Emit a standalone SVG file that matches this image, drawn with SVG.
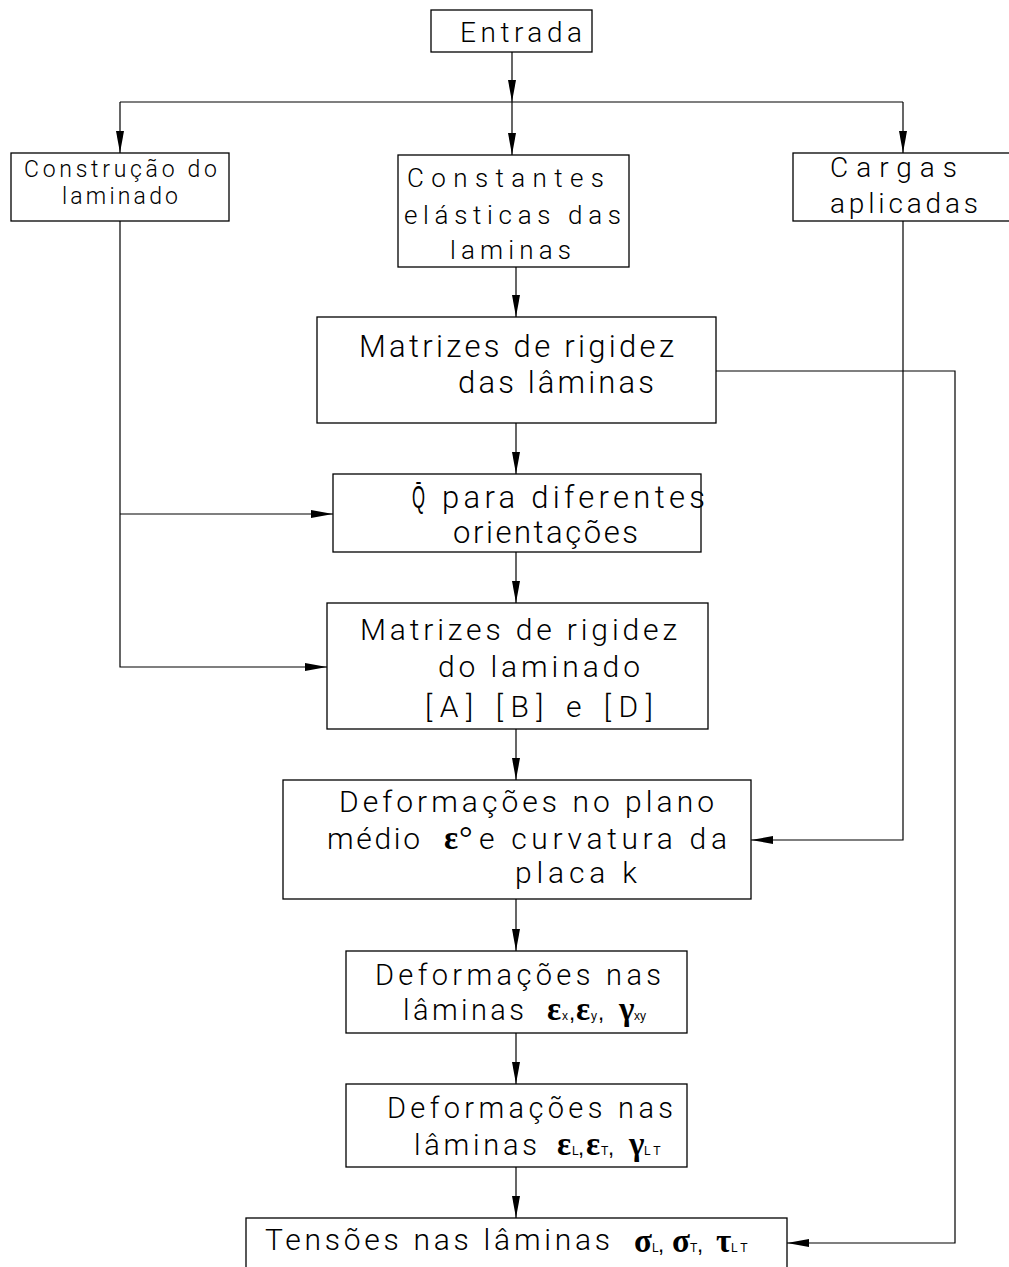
<svg xmlns="http://www.w3.org/2000/svg" width="1009" height="1267" viewBox="0 0 1009 1267">
<style>
.box{fill:#fff;stroke:#000;stroke-width:1.3}
.ln{fill:none;stroke:#000;stroke-width:1.2}
.t{font-family:Roboto,"Liberation Sans",sans-serif;font-weight:300;fill:#000}
.gk{font-family:"Liberation Serif",serif;font-weight:bold;font-size:33px;fill:#000}
.sb{font-family:"Liberation Sans",sans-serif;font-size:12px;font-weight:normal;fill:#000}
.cm{font-family:"Liberation Sans",sans-serif;font-size:22px;font-weight:normal;fill:#000}
.dg{font-family:"Liberation Serif",serif;font-size:34px;font-weight:normal;fill:#000}
</style>
<defs>
<marker id="ah" markerUnits="userSpaceOnUse" markerWidth="22" markerHeight="8" refX="22" refY="4" orient="auto">
<path d="M0,0 L22,4 L0,8 Z" fill="#000"/>
</marker>
</defs>
<rect width="1009" height="1267" fill="#fff"/>
<g id="connectors">
<path class="ln" d="M512,52 V102" marker-end="url(#ah)"/>
<path class="ln" d="M120,102 H903"/>
<path class="ln" d="M120,102 V153" marker-end="url(#ah)"/>
<path class="ln" d="M512,102 V155" marker-end="url(#ah)"/>
<path class="ln" d="M903,102 V153" marker-end="url(#ah)"/>
<path class="ln" d="M516,267 V317" marker-end="url(#ah)"/>
<path class="ln" d="M516,423 V474" marker-end="url(#ah)"/>
<path class="ln" d="M516,552 V603" marker-end="url(#ah)"/>
<path class="ln" d="M516,729 V780" marker-end="url(#ah)"/>
<path class="ln" d="M516,899 V951" marker-end="url(#ah)"/>
<path class="ln" d="M516,1033 V1084" marker-end="url(#ah)"/>
<path class="ln" d="M516,1167 V1218" marker-end="url(#ah)"/>
<path class="ln" d="M120,221 V667 H327" marker-end="url(#ah)"/>
<path class="ln" d="M120,514 H333" marker-end="url(#ah)"/>
<path class="ln" d="M903,221 V840 H751" marker-end="url(#ah)"/>
<path class="ln" d="M716,371 H955 V1243 H787" marker-end="url(#ah)"/>
</g>
<g id="entrada">
<rect class="box" x="431" y="10" width="161" height="42"/>
<text class="t" x="460" y="42" font-size="28" textLength="122">Entrada</text>
</g>
<g id="construcao">
<rect class="box" x="11" y="153" width="218" height="68"/>
<text class="t" x="24" y="177" font-size="23" textLength="193">Construção do</text>
<text class="t" x="62" y="204" font-size="23" textLength="116">laminado</text>
</g>
<g id="constantes">
<rect class="box" x="398" y="155" width="231" height="112"/>
<text class="t" x="407" y="187" font-size="26" textLength="197">Constantes</text>
<text class="t" x="404" y="224" font-size="26" textLength="217">elásticas das</text>
<text class="t" x="450" y="259" font-size="26" textLength="121">laminas</text>
</g>
<g id="cargas">
<rect class="box" x="793" y="153" width="240" height="68"/>
<text class="t" x="830" y="177" font-size="28" textLength="127">Cargas</text>
<text class="t" x="830" y="213" font-size="28" textLength="148">aplicadas</text>
</g>
<g id="matrizes-laminas">
<rect class="box" x="317" y="317" width="399" height="106"/>
<text class="t" x="359" y="357" font-size="31" textLength="315">Matrizes de rigidez</text>
<text class="t" x="458" y="393" font-size="31" textLength="196">das lâminas</text>
</g>
<g id="qbar">
<rect class="box" x="333" y="474" width="368" height="78"/>
<text class="t" x="412" y="508" font-size="31" textLength="13" lengthAdjust="spacingAndGlyphs">Q̄</text>
<text class="t" x="442" y="508" font-size="31" textLength="263">para diferentes</text>
<text class="t" x="453" y="543" font-size="31" textLength="185">orientações</text>
</g>
<g id="matrizes-laminado">
<rect class="box" x="327" y="603" width="381" height="126"/>
<text class="t" x="360" y="640" font-size="30" textLength="317">Matrizes de rigidez</text>
<text class="t" x="438" y="677" font-size="30" textLength="202">do laminado</text>
<text class="t" x="425" y="717" font-size="30" textLength="228">[A] [B] e [D]</text>
</g>
<g id="deformacoes-plano">
<rect class="box" x="283" y="780" width="468" height="119"/>
<text class="t" x="339" y="812" font-size="30" textLength="375">Deformações no plano</text>
<text class="t" x="327" y="849" font-size="30" textLength="93">médio</text>
<text y="849"><tspan class="gk" x="444">ε</tspan><tspan class="dg" x="459">°</tspan></text>
<text class="t" x="479" y="849" font-size="30" textLength="248">e curvatura da</text>
<text class="t" x="515" y="883" font-size="30" textLength="122">placa k</text>
</g>
<g id="deformacoes-xy">
<rect class="box" x="346" y="951" width="341" height="82"/>
<text class="t" x="375" y="985" font-size="29" textLength="286">Deformações nas</text>
<text class="t" x="403" y="1020" font-size="29" textLength="121">lâminas</text>
<text y="1020"><tspan class="gk" x="547">ε</tspan><tspan class="sb" x="562">x</tspan><tspan class="cm" x="569">,</tspan><tspan class="gk" x="576">ε</tspan><tspan class="sb" x="591">y</tspan><tspan class="cm" x="598">,</tspan><tspan class="gk" x="619">γ</tspan><tspan class="sb" x="634">xy</tspan></text>
</g>
<g id="deformacoes-lt">
<rect class="box" x="346" y="1084" width="341" height="83"/>
<text class="t" x="387" y="1118" font-size="29" textLength="286">Deformações nas</text>
<text class="t" x="414" y="1155" font-size="29" textLength="123">lâminas</text>
<text y="1155"><tspan class="gk" x="557">ε</tspan><tspan class="sb" x="572">L</tspan><tspan class="cm" x="578">,</tspan><tspan class="gk" x="586">ε</tspan><tspan class="sb" x="601">T</tspan><tspan class="cm" x="608">,</tspan><tspan class="gk" x="629">γ</tspan><tspan class="sb" x="644">L T</tspan></text>
</g>
<g id="tensoes">
<rect class="box" x="246" y="1218" width="541" height="70"/>
<text class="t" x="265" y="1250" font-size="30" textLength="345">Tensões nas lâminas</text>
<text y="1252"><tspan class="gk" x="634">σ</tspan><tspan class="sb" x="652">L</tspan><tspan class="cm" x="658">,</tspan><tspan class="gk" x="672">σ</tspan><tspan class="sb" x="690">T</tspan><tspan class="cm" x="697">,</tspan><tspan class="gk" x="716">τ</tspan><tspan class="sb" x="731">L T</tspan></text>
</g>
</svg>
